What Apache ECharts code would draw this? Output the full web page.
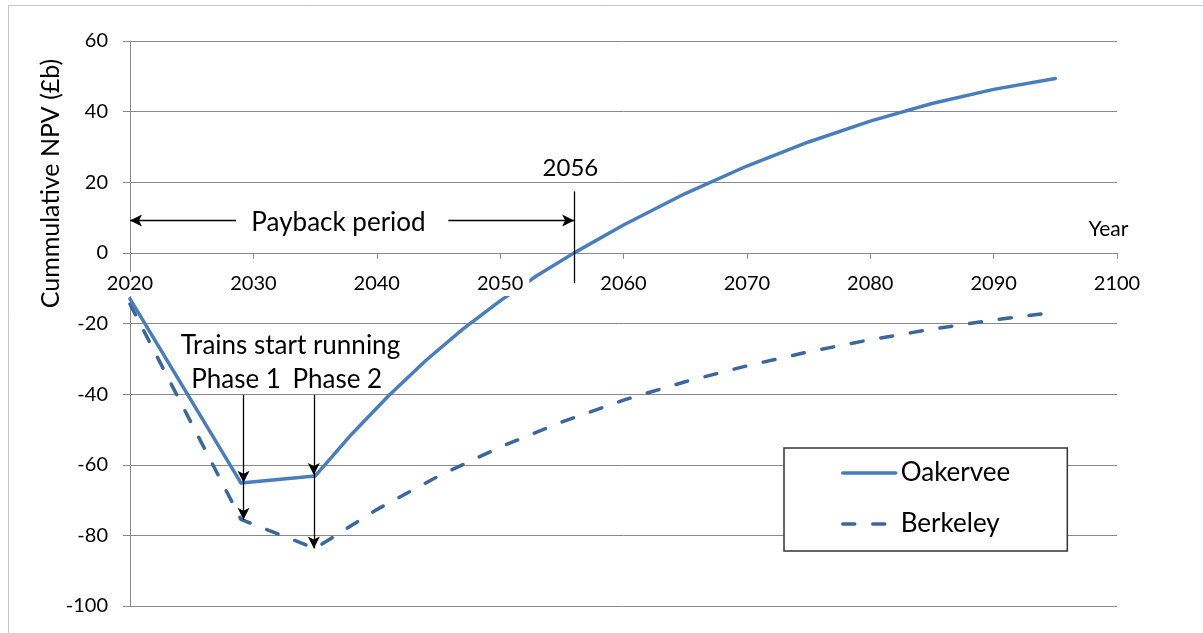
<!DOCTYPE html>
<html><head><meta charset="utf-8">
<script src="https://cdn.jsdelivr.net/npm/echarts@6/dist/echarts.min.js"></script>
<style>html,body{margin:0;padding:0;background:#fff}#c{width:1203px;height:633px}</style>
</head><body><div id="c"></div>
<script>
// ---- data ----
const oakYears  = [2020, 2029, 2035, 2038, 2041, 2044, 2047, 2050, 2053, 2056, 2060, 2065, 2070, 2075, 2080, 2085, 2090, 2095];
const oakValues = [-13, -65.2, -63.2, -51.2, -40.3, -30.4, -21.5, -13.6, -6.4, 0, 7.9, 16.8, 24.6, 31.4, 37.3, 42.3, 46.3, 49.4];
const berkYears  = [2020, 2029, 2035, 2040, 2045, 2050, 2055, 2060, 2065, 2070, 2075, 2080, 2085, 2090, 2095];
const berkValues = [-14.5, -75.5, -83.7, -72.7, -63.2, -55.0, -47.9, -41.7, -36.5, -32.0, -28.0, -24.6, -21.6, -19.0, -16.8];
const seriesNames = ['Oakervee', 'Berkeley'];
const xTicks = {min: 2020, max: 2100, interval: 10};
const yTicks = {min: -100, max: 60, interval: 20};
const yTitle = 'Cummulative NPV (£b)';
const xTitle = 'Year';
const paybackYear = 2056;
const phase1Year = 2029.2;
const phase2Year = 2034.9;

const FONT = 'Lato';
const GRID = '#898989';
const zip = (xs, ys) => xs.map((x, i) => [x, ys[i]]);

const markLines = [
  [{coord: [2028.6, 9.2], symbol: 'none'}, {coord: [xTicks.min, 9.2], symbol: 'arrow'}],
  [{coord: [2045.8, 9.2], symbol: 'none'}, {coord: [paybackYear, 9.2], symbol: 'arrow'}],
  [{coord: [paybackYear, 17.4], symbol: 'none'}, {coord: [paybackYear, -8.6], symbol: 'none'}],
  [{coord: [phase1Year, -40.2], symbol: 'none'}, {coord: [phase1Year, -65.1], symbol: 'arrow'}],
  [{coord: [phase1Year, -65.1], symbol: 'none'}, {coord: [phase1Year, -75.6], symbol: 'arrow'}],
  [{coord: [phase2Year, -40.2], symbol: 'none'}, {coord: [phase2Year, -62.9], symbol: 'arrow'}],
  [{coord: [phase2Year, -62.9], symbol: 'none'}, {coord: [phase2Year, -83.7], symbol: 'arrow'}]
];

const chart = echarts.init(document.getElementById('c'), null, {renderer: 'canvas'});
const option = {
  animation: false,
  backgroundColor: '#fff',
  textStyle: {fontFamily: FONT},
  grid: {left: 130, right: 86, top: 41, bottom: 27, containLabel: false, outerBoundsMode: 'none'},
  legend: {
    data: seriesNames,
    orient: 'vertical',
    left: 784, top: 448,
    backgroundColor: '#fff',
    borderColor: '#333', borderWidth: 1.5, borderRadius: 0,
    padding: [10, 57, 12, 57],
    itemWidth: 53, itemHeight: 12, itemGap: 21,
    itemStyle: {color: 'rgba(0,0,0,0)', borderWidth: 0, opacity: 0},
    lineStyle: {width: 3.5},
    textStyle: {fontFamily: FONT, fontSize: 26, color: '#000', lineHeight: 30},
    selectedMode: false
  },
  xAxis: {
    type: 'value', min: xTicks.min, max: xTicks.max, interval: xTicks.interval,
    position: 'bottom', offset: 0,
    z: 5,
    axisLine: {show: true, onZero: false, lineStyle: {color: 'rgba(0,0,0,0)', width: 1}},
    axisTick: {show: true, length: 6, lineStyle: {color: GRID}},
    axisLabel: {show: true, margin: 19, fontFamily: FONT, fontSize: 20, color: '#000',
      backgroundColor: '#fff', padding: [2, 6, 2, 6], formatter: v => String(v)},
    splitLine: {show: false}
  },
  yAxis: {
    type: 'value', min: yTicks.min, max: yTicks.max, interval: yTicks.interval,
    axisLine: {show: true, onZero: false, lineStyle: {color: GRID, width: 1}},
    axisTick: {show: true, length: 7, lineStyle: {color: GRID}},
    axisLabel: {margin: 22, fontFamily: FONT, fontSize: 20, color: '#000'},
    splitLine: {show: true, lineStyle: {color: GRID, width: 1}}
  },
  series: [{
    name: seriesNames[0], type: 'line',
    data: zip(oakYears, oakValues),
    symbol: 'none', smooth: false,
    lineStyle: {color: '#4a7ebb', width: 3.5, cap: 'round', join: 'round'},
    itemStyle: {color: '#4a7ebb'},
    z: 3,
    markLine: {
      silent: true, symbolSize: [9, 12],
      label: {show: false},
      lineStyle: {color: '#000', width: 1.3, type: 'solid'},
      itemStyle: {color: '#000'},
      emphasis: {disabled: true},
      data: markLines
    }
  }, {
    name: seriesNames[1], type: 'line',
    data: zip(berkYears, berkValues),
    symbol: 'none', smooth: false,
    lineStyle: {color: '#3b679c', width: 3.5, type: [12, 18], cap: 'round', join: 'round'},
    itemStyle: {color: '#3b679c'},
    z: 2
  }]
};
chart.setOption(option);

// move the x axis up so it sits on y = 0 (the reference crosses there)
const yZero = chart.convertToPixel({yAxisIndex: 0}, 0);
const yBottom = chart.convertToPixel({yAxisIndex: 0}, yTicks.min);
chart.setOption({xAxis: {offset: yZero - yBottom}});

// annotation texts placed in data coordinates
const notes = [
  {text: 'Payback period', at: [2036.9, 8.6], size: 26},
  {text: '2056', at: [2055.7, 24.0], size: 24},
  {text: 'Trains start running', at: [2033.0, -26.3], size: 26},
  {text: 'Phase 1', at: [2028.6, -36.0], size: 26},
  {text: 'Phase 2', at: [2036.8, -36.0], size: 26},
  {text: xTitle, at: [2099.3, 6.8], size: 21}
];
const g = [{
  type: 'rect', z: -10, silent: true,
  shape: {x: 8.5, y: 5.5, width: 1400, height: 800},
  style: {fill: null, stroke: '#c6c6c6', lineWidth: 1}
}, {
  type: 'text', x: 51, y: 183.5, rotation: Math.PI / 2, silent: true,
  style: {text: yTitle, font: '25px ' + FONT, fill: '#000', textAlign: 'center', textVerticalAlign: 'middle'}
}];
notes.forEach(n => {
  const p = chart.convertToPixel({xAxisIndex: 0, yAxisIndex: 0}, n.at);
  g.push({type: 'text', x: p[0], y: p[1], silent: true, z: 10,
    style: {text: n.text, font: n.size + 'px ' + FONT, fill: '#000', textAlign: 'center', textVerticalAlign: 'middle'}});
});
chart.setOption({graphic: g});
</script></body></html>
